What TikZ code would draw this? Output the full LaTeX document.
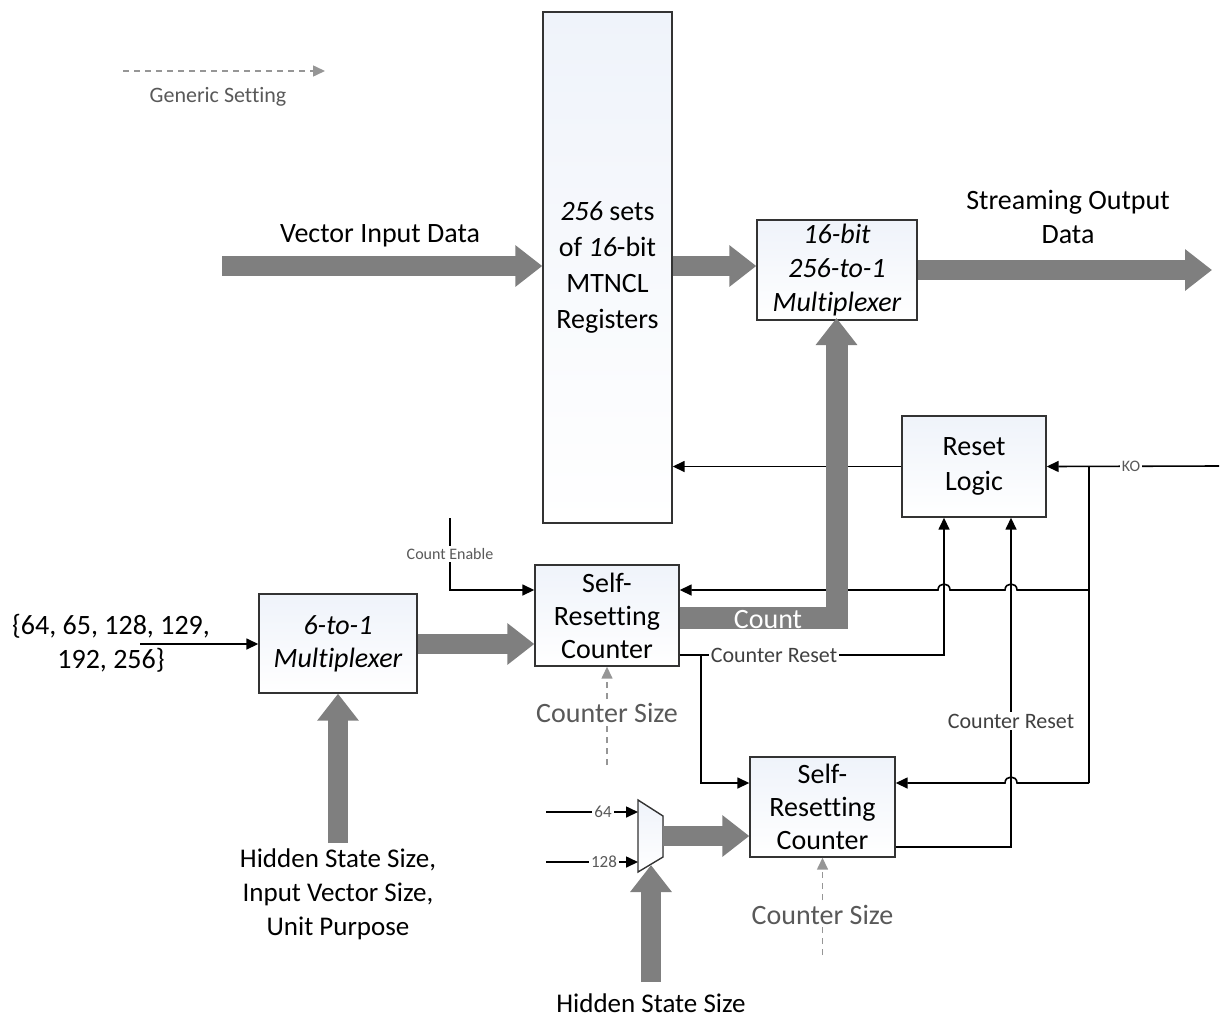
\documentclass[tikz,border=0pt]{standalone}
\usepackage{fontspec}
\setmainfont{Carlito}[Ligatures=NoCommon]
\usepackage{xcolor}
\usepackage{tikz}
\usetikzlibrary{arrows.meta, positioning, calc}
\definecolor{busgray}{RGB}{127,127,127}
\definecolor{labelgray}{RGB}{89,89,89}
\definecolor{wiregray}{RGB}{64,64,64}
\definecolor{dashgray}{RGB}{150,150,150}
\definecolor{boxtint}{RGB}{239,243,250}
\tikzset{
  blockbox/.style={
    rectangle, draw=black!80, line width=0.7pt,
    top color=boxtint, bottom color=white,
    align=center, inner sep=2pt,
    font=\fontsize{14}{16.5}\selectfont
  },
  bus/.style={draw=busgray, line width=10pt, -{Triangle[length=13.5pt,width=20pt]}},
  sig/.style={draw=black, line width=0.8pt, -{Triangle[length=6pt,width=5.5pt]}},
  wire/.style={draw=black, line width=0.8pt},
  setting/.style={draw=dashgray, line width=0.75pt, dash pattern=on 3pt off 2.5pt, -{Triangle[length=6pt,width=5.5pt]}},
  wirelabel/.style={text=wiregray, fill=white, inner sep=1pt, font=\fontsize{11}{13}\selectfont},
  smalllabel/.style={text=labelgray, fill=white, inner sep=1pt, font=\fontsize{8}{10}\selectfont},
  bigtext/.style={align=center, font=\fontsize{14}{17}\selectfont}
}

\begin{document}
\begin{tikzpicture}[x=0.5pt, y=-0.5pt]
  \useasboundingbox (0,0) rectangle (1224,1017);

  % Legend
  \coordinate (legA) at (123,71);
  \coordinate (legB) at (325,71);
  \draw[setting] (legA) -- (legB);
  \node[text=labelgray, font=\fontsize{11}{13}\selectfont] (legtext) at (218,97) {Generic Setting};

  % Blocks
  \node[blockbox, minimum width=64.5pt, minimum height=255.5pt, font=\fontsize{14}{18}\selectfont] (regs) at (607.5,267.5)
    {\textit{256} sets\\of \textit{16}-bit\\MTNCL\\Registers};
  \node[blockbox, minimum width=80pt, minimum height=48pt, font=\itshape\fontsize{14}{17}\selectfont] (outmux) at (837,270)
    {16-bit\\256-to-1\\Multiplexer};
  \node[blockbox, minimum width=72pt, minimum height=50.5pt, font=\fontsize{14}{17.5}\selectfont] (rstlogic) at (974,466.5)
    {Reset\\Logic};
  \node[blockbox, minimum width=72pt, minimum height=50.5pt] (cntA) at (607,615.5)
    {Self-\\Resetting\\Counter};
  \node[blockbox, minimum width=72.5pt, minimum height=50pt] (cntB) at (822.5,807)
    {Self-\\Resetting\\Counter};
  \node[blockbox, minimum width=79pt, minimum height=49.5pt, font=\itshape\fontsize{14}{16.5}\selectfont] (selmux) at (338,643.5)
    {6-to-1\\Multiplexer};

  % Small 2-to-1 mux
  \coordinate (smA) at (638,800);
  \coordinate (smB) at (663,816);
  \coordinate (smC) at (663,857);
  \coordinate (smD) at (638,872);
  \coordinate (smout) at (663,836);
  \filldraw[draw=black!80, line width=0.7pt, top color=boxtint, bottom color=white] (smA) -- (smB) -- (smC) -- (smD) -- cycle;

  % Text labels
  \node[bigtext] (vinlbl) at (380,236) {Vector Input Data};
  \node[bigtext] (outlbl) at (1068,217) {Streaming Output\\Data};
  \node[bigtext] (setlbl) at (111,643) {\{64, 65, 128, 129,\\192, 256\}};
  \node[bigtext, font=\fontsize{13.5}{17}\selectfont] (cfglbl) at (338,894) {Hidden State Size,\\Input Vector Size,\\Unit Purpose};
  \node[bigtext, font=\fontsize{13.5}{17}\selectfont] (hslbl) at (651,1003) {Hidden State Size};

  % Junction points
  \coordinate (koin) at (1219,466);
  \coordinate (kojoin) at (1089,466);
  \coordinate (kotap) at (1089,590);
  \coordinate (kobot) at (1089,783);
  \coordinate (resA) at (944,655);
  \coordinate (resB) at (1011,847);
  \coordinate (split) at (701,655);
  \coordinate (enable) at (450,518);
  \coordinate (setin) at (140,644);

  % Thin control lines
  \draw[sig] (rstlogic.west) -- (regs.east |- rstlogic.west);
  \draw[sig] (koin) -- (rstlogic.east);
  \node[smalllabel] (kolbl) at (1131,466) {KO};
  \draw[wire] (kojoin) -- (kobot);
  \draw[sig] (kotap) -- (1017,590) .. controls (1017,582) and (1005,582) .. (1005,590)
    -- (950,590) .. controls (950,582) and (938,582) .. (938,590) -- (cntA.east |- kotap);
  \draw[sig] (kobot) -- (1017,783) .. controls (1017,775) and (1005,775) .. (1005,783) -- (cntB.east |- kobot);
  \draw[sig] (cntA.east |- resA) -- (resA) -- (resA |- rstlogic.south);
  \node[wirelabel] (resAlbl) at (774,655) {Counter Reset};
  \draw[sig] (cntB.east |- resB) -- (resB) -- (resB |- rstlogic.south);
  \node[wirelabel] (resBlbl) at (1011,721) {Counter Reset};
  \draw[sig] (split) -- (split |- kobot) -- (cntB.west |- kobot);
  \draw[sig] (enable) -- (enable |- kotap) -- (cntA.west |- kotap);
  \node[smalllabel] (enlbl) at (450,554) {Count Enable};
  \draw[sig] (setin) -- (selmux.west |- setin);
  \draw[sig] (546,812) -- (smA |- 0,812);
  \draw[sig] (546,862) -- (smA |- 0,862);
  \node[smalllabel, font=\fontsize{8.5}{10}\selectfont] (in64) at (603,812) {64};
  \node[smalllabel, font=\fontsize{8.5}{10}\selectfont] (in128) at (604,862) {128};

  % Generic settings
  \draw[setting] (607,765) -- (cntA.south);
  \node[text=labelgray, fill=white, inner sep=1pt, font=\fontsize{14}{17}\selectfont] (sizeA) at (607,713) {Counter Size};
  \draw[setting] (822.5,955) -- (cntB.south);
  \node[text=labelgray, fill=white, inner sep=1pt, font=\fontsize{14}{17}\selectfont] (sizeB) at (822.5,915) {Counter Size};

  % Data buses
  \draw[bus] (222,266) -- (regs.west |- 0,266);
  \draw[bus] (regs.east |- 0,266) -- (outmux.west |- 0,266);
  \draw[bus] (outmux.east) -- (1212,270);
  \draw[bus] (selmux.east |- setin) -- (cntA.west |- setin);
  \draw[bus] (338,843) -- (selmux.south);
  \draw[bus] (smout) -- (cntB.west |- smout);
  \draw[bus] (651,982) -- (651,865);
  \draw[bus, line width=11pt] (cntA.east |- 0,618) -- (836.5,618) -- (836.5,318);
  \node[text=white, font=\fontsize{14}{17}\selectfont] (cntlbl) at (768,620) {Count};
\end{tikzpicture}
\end{document}
